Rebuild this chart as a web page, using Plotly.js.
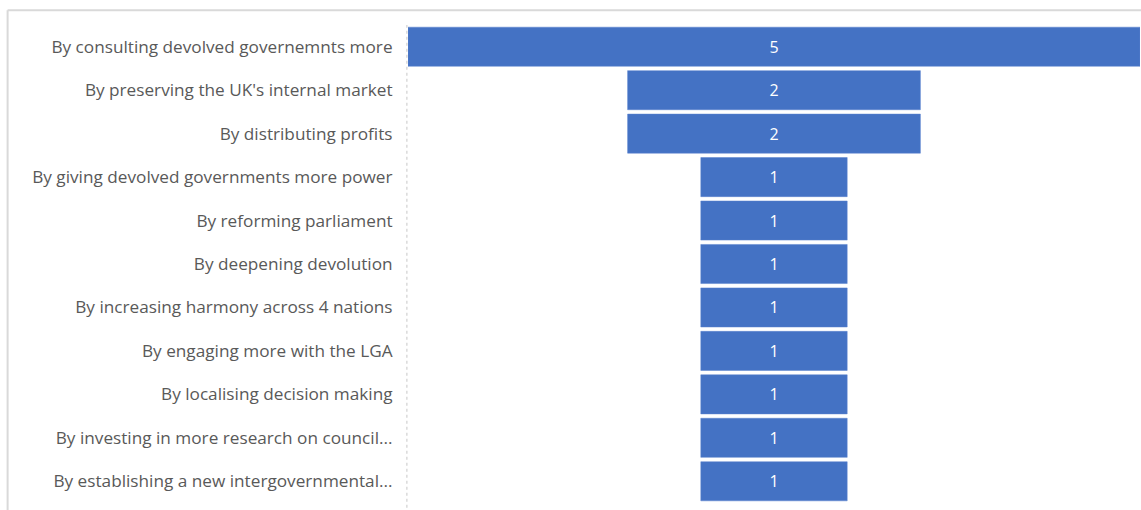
<!DOCTYPE html>
<html>
<head>
<meta charset="utf-8">
<script src="https://cdn.plot.ly/plotly-3.0.1.min.js"></script>
<style>html,body{margin:0;padding:0;background:#fff;}#chart{width:1141px;height:510px;}</style>
</head>
<body>
<div id="chart"></div>
<script>
const categories = [
  "By consulting devolved governemnts more",
  "By preserving the UK's internal market",
  "By distributing profits",
  "By giving devolved governments more power",
  "By reforming parliament",
  "By deepening devolution",
  "By increasing harmony across 4 nations",
  "By engaging more with the LGA",
  "By localising decision making",
  "By investing in more research on council...",
  "By establishing a new intergovernmental..."
];
const counts = [5, 2, 2, 1, 1, 1, 1, 1, 1, 1, 1];

const trace = {
  type: 'funnel',
  y: categories,
  x: counts,
  textinfo: 'value',
  textposition: 'inside',
  insidetextanchor: 'middle',
  textfont: {family: '"Open Sans", sans-serif', size: 16, color: '#ffffff'},
  marker: {color: '#4472C4', line: {color: '#5a83cf', width: 0.5}},
  connector: {visible: false},
  hoverinfo: 'x+y'
};

const layout = {
  width: 1141,
  height: 510,
  margin: {l: 408, r: 1, t: 25, b: 7, pad: 0},
  paper_bgcolor: '#ffffff',
  plot_bgcolor: '#ffffff',
  showlegend: false,
  funnelgap: 0.1,
  xaxis: {range: [-2.5, 2.5], visible: false, fixedrange: true},
  yaxis: {
    autorange: 'reversed',
    showline: false,
    showgrid: false,
    zeroline: false,
    ticks: 'outside',
    ticklen: 11,
    tickcolor: 'rgba(0,0,0,0)',
    tickfont: {family: '"Open Sans", sans-serif', size: 17.2, color: '#595959'}
  },
  shapes: [
    {type: 'line', xref: 'paper', yref: 'paper', x0: -0.547, x1: 1.01, y0: 1.031, y1: 1.031,
     line: {color: '#d9d9d9', width: 2}},
    {type: 'line', xref: 'paper', yref: 'paper', x0: -0.547, x1: -0.547, y0: -0.02, y1: 1.031,
     line: {color: '#d9d9d9', width: 2}},
    {type: 'line', xref: 'paper', yref: 'paper', x0: -0.0015, x1: -0.0015, y0: -0.01, y1: 1.0,
     line: {color: '#c8c8c8', width: 1, dash: 'dot'}}
  ]
};

Plotly.newPlot('chart', [trace], layout, {displayModeBar: false, staticPlot: true});
</script>
</body>
</html>
